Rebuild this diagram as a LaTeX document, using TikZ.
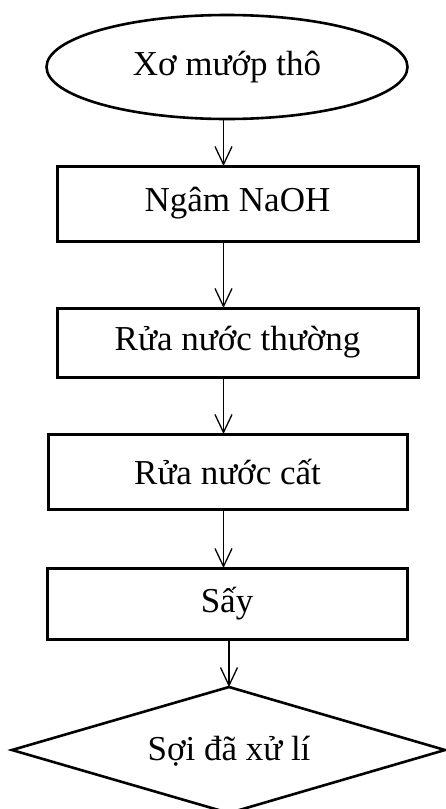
\documentclass[tikz,border=0pt]{standalone}
\usepackage{fontspec}
\setmainfont{Liberation Serif}
\usetikzlibrary{arrows.meta,shapes.geometric}
\begin{document}
\begin{tikzpicture}[x=1pt,y=-1pt,
  every node/.style={font=\fontsize{35}{40}\selectfont, inner sep=0pt, outer sep=0pt},
  startnode/.style={ellipse, draw, line width=2.6pt, minimum width=361pt, minimum height=104pt},
  stepbox/.style={rectangle, draw, line width=3pt},
  endline/.style={line width=2.6pt, line join=miter},
  flow/.style={line width=1.3pt, -{Straight Barb[length=18pt,width=17pt,line width=1.3pt]}}]
  \useasboundingbox (0,0) rectangle (446,809);

  % process steps
  \node[startnode] (raw) at (227,67) {Xơ mướp thô};
  \node[stepbox, minimum width=361pt, minimum height=75pt] (soak) at (237.5,203.5) {Ngâm NaOH};
  \node[stepbox, minimum width=361pt, minimum height=69pt] (wash) at (237.5,342.5) {Rửa nước thường};
  \node[stepbox, minimum width=359pt, minimum height=75pt] (rinse) at (227.5,471.5) {Rửa nước cất};
  \node[stepbox, minimum width=360pt, minimum height=71pt] (dry) at (227,603.5) {Sấy};

  % final product: diamond drawn from its four corners
  \coordinate (ftop) at (229,687);
  \coordinate (fright) at (445,750);
  \coordinate (fbottom) at (229,813);
  \coordinate (fleft) at (12,750);
  \draw[endline] (ftop) -- (fright) -- (fbottom) -- (fleft) -- cycle;
  \node (fiber) at (229,751) {Sợi đã xử lí};

  % vertical guide for the connectors
  \coordinate (spine) at (223.5,0);

  \draw[flow] (raw.south -| spine) -- (soak.north -| spine);
  \draw[flow] (soak.south -| spine) -- (wash.north -| spine);
  \draw[flow] (wash.south -| spine) -- (rinse.north -| spine);
  \draw[flow] (rinse.south -| spine) -- (dry.north -| spine);
  \draw[flow] (dry.south -| ftop) -- (ftop);
\end{tikzpicture}
\end{document}
